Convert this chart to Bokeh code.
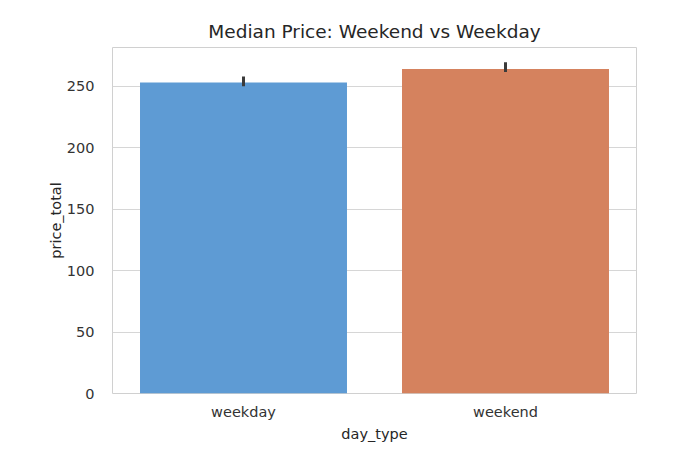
from bokeh.plotting import figure
from bokeh.models import ColumnDataSource, FactorRange, Range1d
from bokeh.embed import file_html
from bokeh.resources import INLINE

day_type = ["weekday", "weekend"]
price_total = [253.0, 264.0]
ci_low = [250.0, 261.5]
ci_high = [258.0, 269.5]
colors = ["#5e9bd4", "#d5825e"]

src = ColumnDataSource(dict(day_type=day_type, price_total=price_total,
                            ci_low=ci_low, ci_high=ci_high, color=colors))

FONT = "DejaVu Sans"
p = figure(x_range=FactorRange(*day_type), y_range=Range1d(0, 281.5),
           frame_width=524, frame_height=346,
           min_border_left=112, min_border_top=47, min_border_right=25, min_border_bottom=59,
           output_backend="svg", toolbar_location=None,
           title="Median Price: Weekend vs Weekday")

p.vbar(x="day_type", top="price_total", width=0.79, color="color", source=src, line_color=None)
p.segment(x0="day_type", y0="ci_low", x1="day_type", y1="ci_high", source=src,
          line_color="#3b3b3b", line_width=3)

p.title.align = "center"
p.title.text_font = FONT
p.title.text_font_size = "18.5px"
p.title.text_font_style = "normal"
p.title.text_color = "#262626"
p.title.standoff = 11

p.outline_line_color = "#d0d0d0"
p.outline_line_width = 1
p.xgrid.grid_line_color = None
p.ygrid.grid_line_color = "#d6d6d6"
p.ygrid.grid_line_width = 1
p.yaxis.ticker = [0, 50, 100, 150, 200, 250]

for ax in (p.xaxis[0], p.yaxis[0]):
    ax.axis_line_color = None
    ax.major_tick_line_color = None
    ax.minor_tick_line_color = None
    ax.major_label_text_font = FONT
    ax.major_label_text_font_size = "14.5px"
    ax.major_label_text_color = "#333333"
    ax.axis_label_text_font = FONT
    ax.axis_label_text_font_size = "14.5px"
    ax.axis_label_text_font_style = "normal"
    ax.axis_label_text_color = "#262626"

p.xaxis.axis_label = "day_type"
p.yaxis.axis_label = "price_total"
p.xaxis.major_label_standoff = 4
p.yaxis.major_label_standoff = 12
p.xaxis.axis_label_standoff = 3
p.yaxis.axis_label_standoff = 0

open("out.html", "w").write(file_html(p, INLINE))
